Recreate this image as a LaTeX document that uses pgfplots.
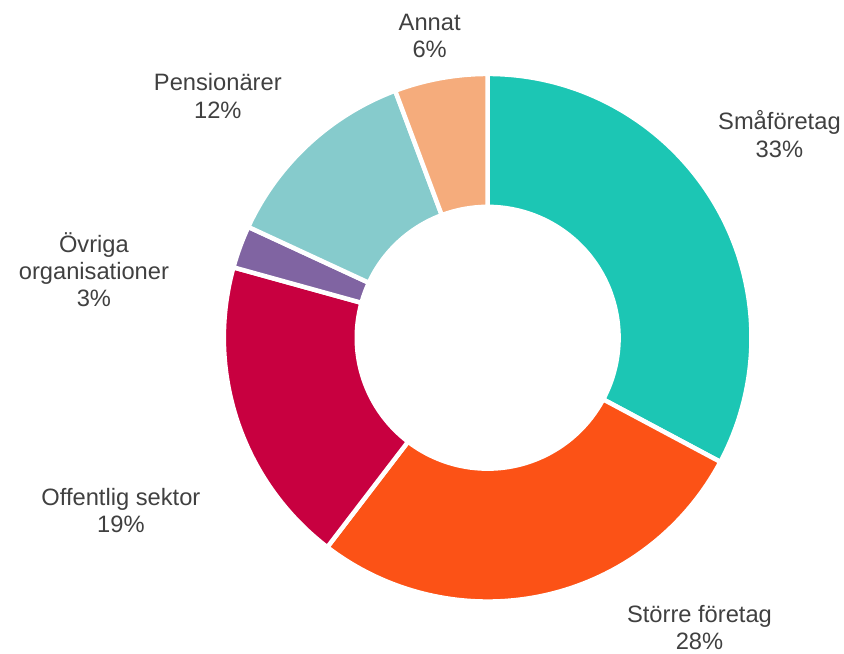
\documentclass[border=0pt]{standalone}
\usepackage{pgfplots}
\pgfplotsset{compat=1.18}
\usepackage{pgfplotstable}
\usepackage{fontspec}
\setmainfont{Liberation Sans}

\definecolor{smaa}{HTML}{1CC6B4}
\definecolor{storre}{HTML}{FC5216}
\definecolor{offentlig}{HTML}{C80040}
\definecolor{ovriga}{HTML}{8064A2}
\definecolor{pension}{HTML}{86CBCC}
\definecolor{annat}{HTML}{F5AC7C}
\definecolor{labeltext}{HTML}{404040}

% share in percent, clockwise from 12 o'clock
\pgfplotstableread{
name              value  color
Småföretag        32.8   smaa
{Större företag}  27.6   storre
{Offentlig sektor} 18.9  offentlig
{Övriga organisationer} 2.6 ovriga
Pensionärer       12.4   pension
Annat             5.7    annat
}\piedata

\begin{document}
\begin{tikzpicture}
\begin{axis}[
    scale only axis, width=844bp, height=651bp,
    xmin=0, xmax=844, ymin=0, ymax=651,
    hide axis, clip=false,
]
\addplot[draw=none] coordinates {(0,0) (844,651)};
\def\angstart{90}
\pgfplotsforeachungrouped \i in {0,...,5}{%
    \pgfplotstablegetelem{\i}{value}\of\piedata \let\v\pgfplotsretval
    \pgfplotstablegetelem{\i}{color}\of\piedata \let\c\pgfplotsretval
    \pgfmathsetmacro\angend{\angstart-3.6*\v}%
    \pgfmathsetmacro\angback{\angend+180}%
    \edef\temp{\noexpand\fill[\c, draw=white, line width=4.5bp]
        (axis cs:488,313) ++(\angstart:264bp)
        arc[start angle=\angstart, end angle=\angend, radius=264bp]
        -- ++(\angback:133bp)
        arc[start angle=\angend, end angle=\angstart, radius=131bp] -- cycle;}%
    \temp
    \global\let\angstart\angend
}
\begin{scope}[every node/.style={align=center, text=labeltext,
    font=\fontsize{23.8}{27.5}\selectfont}]
\node at (axis cs:430,615) {Annat\\6\%};
\node at (axis cs:218,555) {Pensionärer\\12\%};
\node at (axis cs:780,517) {Småföretag\\33\%};
\node at (axis cs:94,381) {Övriga\\organisationer\\3\%};
\node at (axis cs:121,140) {Offentlig sektor\\19\%};
\node at (axis cs:700,23) {Större företag\\28\%};
\end{scope}
\end{axis}
\end{tikzpicture}
\end{document}
